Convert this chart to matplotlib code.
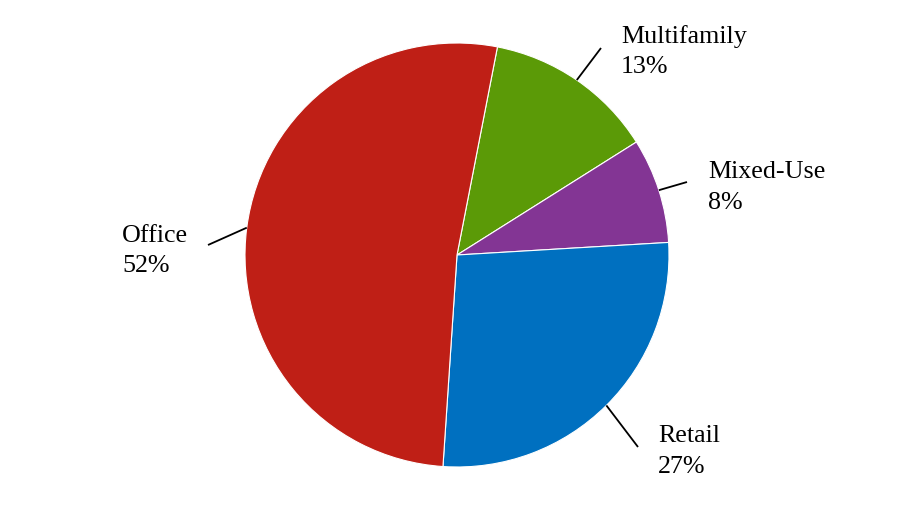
import numpy as np
import matplotlib.pyplot as plt

# data
labels = ["Multifamily", "Mixed-Use", "Retail", "Office"]
shares = [13, 8, 27, 52]
colors = ["#5B9A07", "#833594", "#0070C0", "#BF1F16"]

W, H = 914, 512
cx, cy, r = 457, 255, 212

# label anchors (left x, last-line baseline y) and leader end points, in pixels from top-left
label_pos = {"Multifamily": (621, 73), "Mixed-Use": (708, 209), "Retail": (658, 473), "Office": (122, 272)}
leader_end = {"Multifamily": (601, 48), "Mixed-Use": (687, 182), "Retail": (638, 447), "Office": (208, 245)}

plt.rcParams['font.family'] = ['Liberation Serif', 'DejaVu Serif']

fig = plt.figure(figsize=(W / 100, H / 100), dpi=100)
ax = fig.add_axes([0, 0, 1, 1])
ax.set_xlim(0, W)
ax.set_ylim(0, H)
ax.set_aspect('equal')
ax.axis('off')

wedges, _ = ax.pie(shares, colors=colors, startangle=79, counterclock=False,
                   center=(cx, H - cy), radius=r,
                   wedgeprops=dict(edgecolor='white', linewidth=0.8))
ax.set_xlim(0, W)
ax.set_ylim(0, H)

for w, name, val in zip(wedges, labels, shares):
    mid = np.deg2rad((w.theta1 + w.theta2) / 2)
    x0 = cx + r * np.cos(mid)
    y0 = (H - cy) + r * np.sin(mid)
    ex, ey = leader_end[name]
    ax.plot([x0, ex], [y0, H - ey], color='black', lw=1.3, solid_capstyle='butt')
    lx, ly = label_pos[name]
    ax.text(lx, H - ly, f"{name}\n{val}%", fontsize=18.7, ha='left', va='baseline',
            linespacing=1.5, color='black')

fig.savefig("out.png", dpi=100)
